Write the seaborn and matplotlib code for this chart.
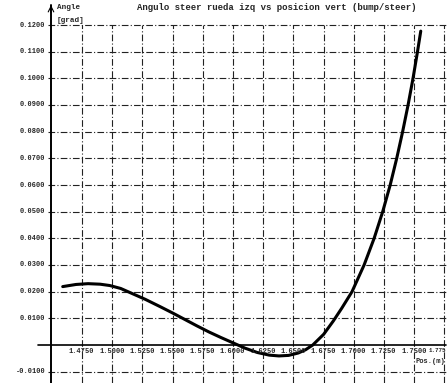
import numpy as np
import pandas as pd
import seaborn as sns
import matplotlib.pyplot as plt

# valores
pos_m = [1.459, 1.470, 1.480, 1.490, 1.498, 1.507, 1.515, 1.527, 1.540, 1.550,
         1.560, 1.570, 1.580, 1.590, 1.600, 1.610, 1.620, 1.630, 1.638, 1.646,
         1.654, 1.660, 1.666, 1.675, 1.683, 1.690, 1.6985, 1.7085, 1.7168, 1.7239,
         1.7301, 1.7355, 1.7404, 1.7449, 1.7490, 1.7527, 1.7554]
angle_grad = [0.0219, 0.0227, 0.0230, 0.0228, 0.0223, 0.0212, 0.0196, 0.0172, 0.0143, 0.0120,
              0.0096, 0.0072, 0.0049, 0.0028, 0.0008, -0.0012, -0.0028, -0.0038, -0.0041, -0.0039,
              -0.0030, -0.0018, 0.0, 0.0040, 0.0090, 0.0138, 0.0200, 0.0300, 0.0400, 0.0500,
              0.0600, 0.0700, 0.0800, 0.0900, 0.1000, 0.1100, 0.1177]

x_ticks = [1.475, 1.500, 1.525, 1.550, 1.575, 1.600, 1.625, 1.650, 1.675, 1.700, 1.725, 1.750, 1.775]
x_labels = ["1.4750", "1.5000", "1.5250", "1.5500", "1.5750", "1.6000", "1.6250",
            "1.6500", "1.6750", "1.7000", "1.7250", "1.7500", "1.775"]
y_ticks = [0.12, 0.11, 0.10, 0.09, 0.08, 0.07, 0.06, 0.05, 0.04, 0.03, 0.02, 0.01, -0.01]
y_labels = ["0.1200", "0.1100", "0.1000", "0.0900", "0.0800", "0.0700", "0.0600",
            "0.0500", "0.0400", "0.0300", "0.0200", "0.0100", "-0.0100"]

df = pd.DataFrame({"pos": pos_m, "angle": angle_grad})

sns.set_style("white")
plt.rcParams['font.family'] = ['Liberation Mono', 'DejaVu Sans Mono']
plt.rcParams['font.weight'] = 'bold'

fig = plt.figure(figsize=(4.47, 3.83), dpi=100)
ax = fig.add_axes([51 / 447, 0, 395 / 447, 1 - 5 / 383])

x0, x1 = 1.4493, 1.7763
y0, y1 = -0.01425, 0.1275
ax.set_xlim(x0, x1)
ax.set_ylim(y0, y1)
for s in ax.spines.values():
    s.set_visible(False)
ax.set_xticks([])
ax.set_yticks([])

grid_style = dict(color='#222222', lw=0.8, linestyles=[(0, (6, 2, 1, 2))])
# rejilla
ax.vlines(x_ticks, y0, 0.12, **grid_style)
ax.hlines(y_ticks, x0 - 0.0025, x1, clip_on=False, **grid_style)

# ejes
ax.plot([x0, x0], [y0, y1], color='black', lw=1.4, clip_on=False)
ax.plot([x0 - 0.011, x1], [0, 0], color='black', lw=1.2, clip_on=False)
ax.annotate("", xy=(x0, y1 + 0.001), xytext=(x0, y1 - 0.004),
            arrowprops=dict(arrowstyle="->", lw=0.8, color='black'), annotation_clip=False)

sns.lineplot(data=df, x="pos", y="angle", color='black', lw=2.2, estimator=None, ax=ax)
ax.set_xlabel("")
ax.set_ylabel("")

for xv, lab in zip(x_ticks[:-1], x_labels[:-1]):
    ax.text(xv - 0.0003, -0.0012, lab, fontsize=5, ha='center', va='top')
ax.text(x1 - 0.0002, -0.0012, x_labels[-1], fontsize=4.2, ha='right', va='top')
for yv, lab in zip(y_ticks, y_labels):
    ax.text(x0 - 0.0045, yv, lab, fontsize=5, ha='right', va='center')

ax.text(x1 - 0.001, -0.0048, "Pos.(m)", fontsize=5, ha='right', va='top')
ax.text(x0 + 0.005, 0.1265, "Angle", fontsize=5.5, ha='left', va='center')
ax.text(x0 + 0.005, 0.1218, "[grad]", fontsize=5.5, ha='left', va='center',
        bbox=dict(facecolor='white', edgecolor='none', pad=0.5))
ax.text(1.5205, 0.1265, "Angulo steer rueda izq vs posicion vert (bump/steer)",
        fontsize=6.5, ha='left', va='center')

fig.savefig("out.png", dpi=100)
